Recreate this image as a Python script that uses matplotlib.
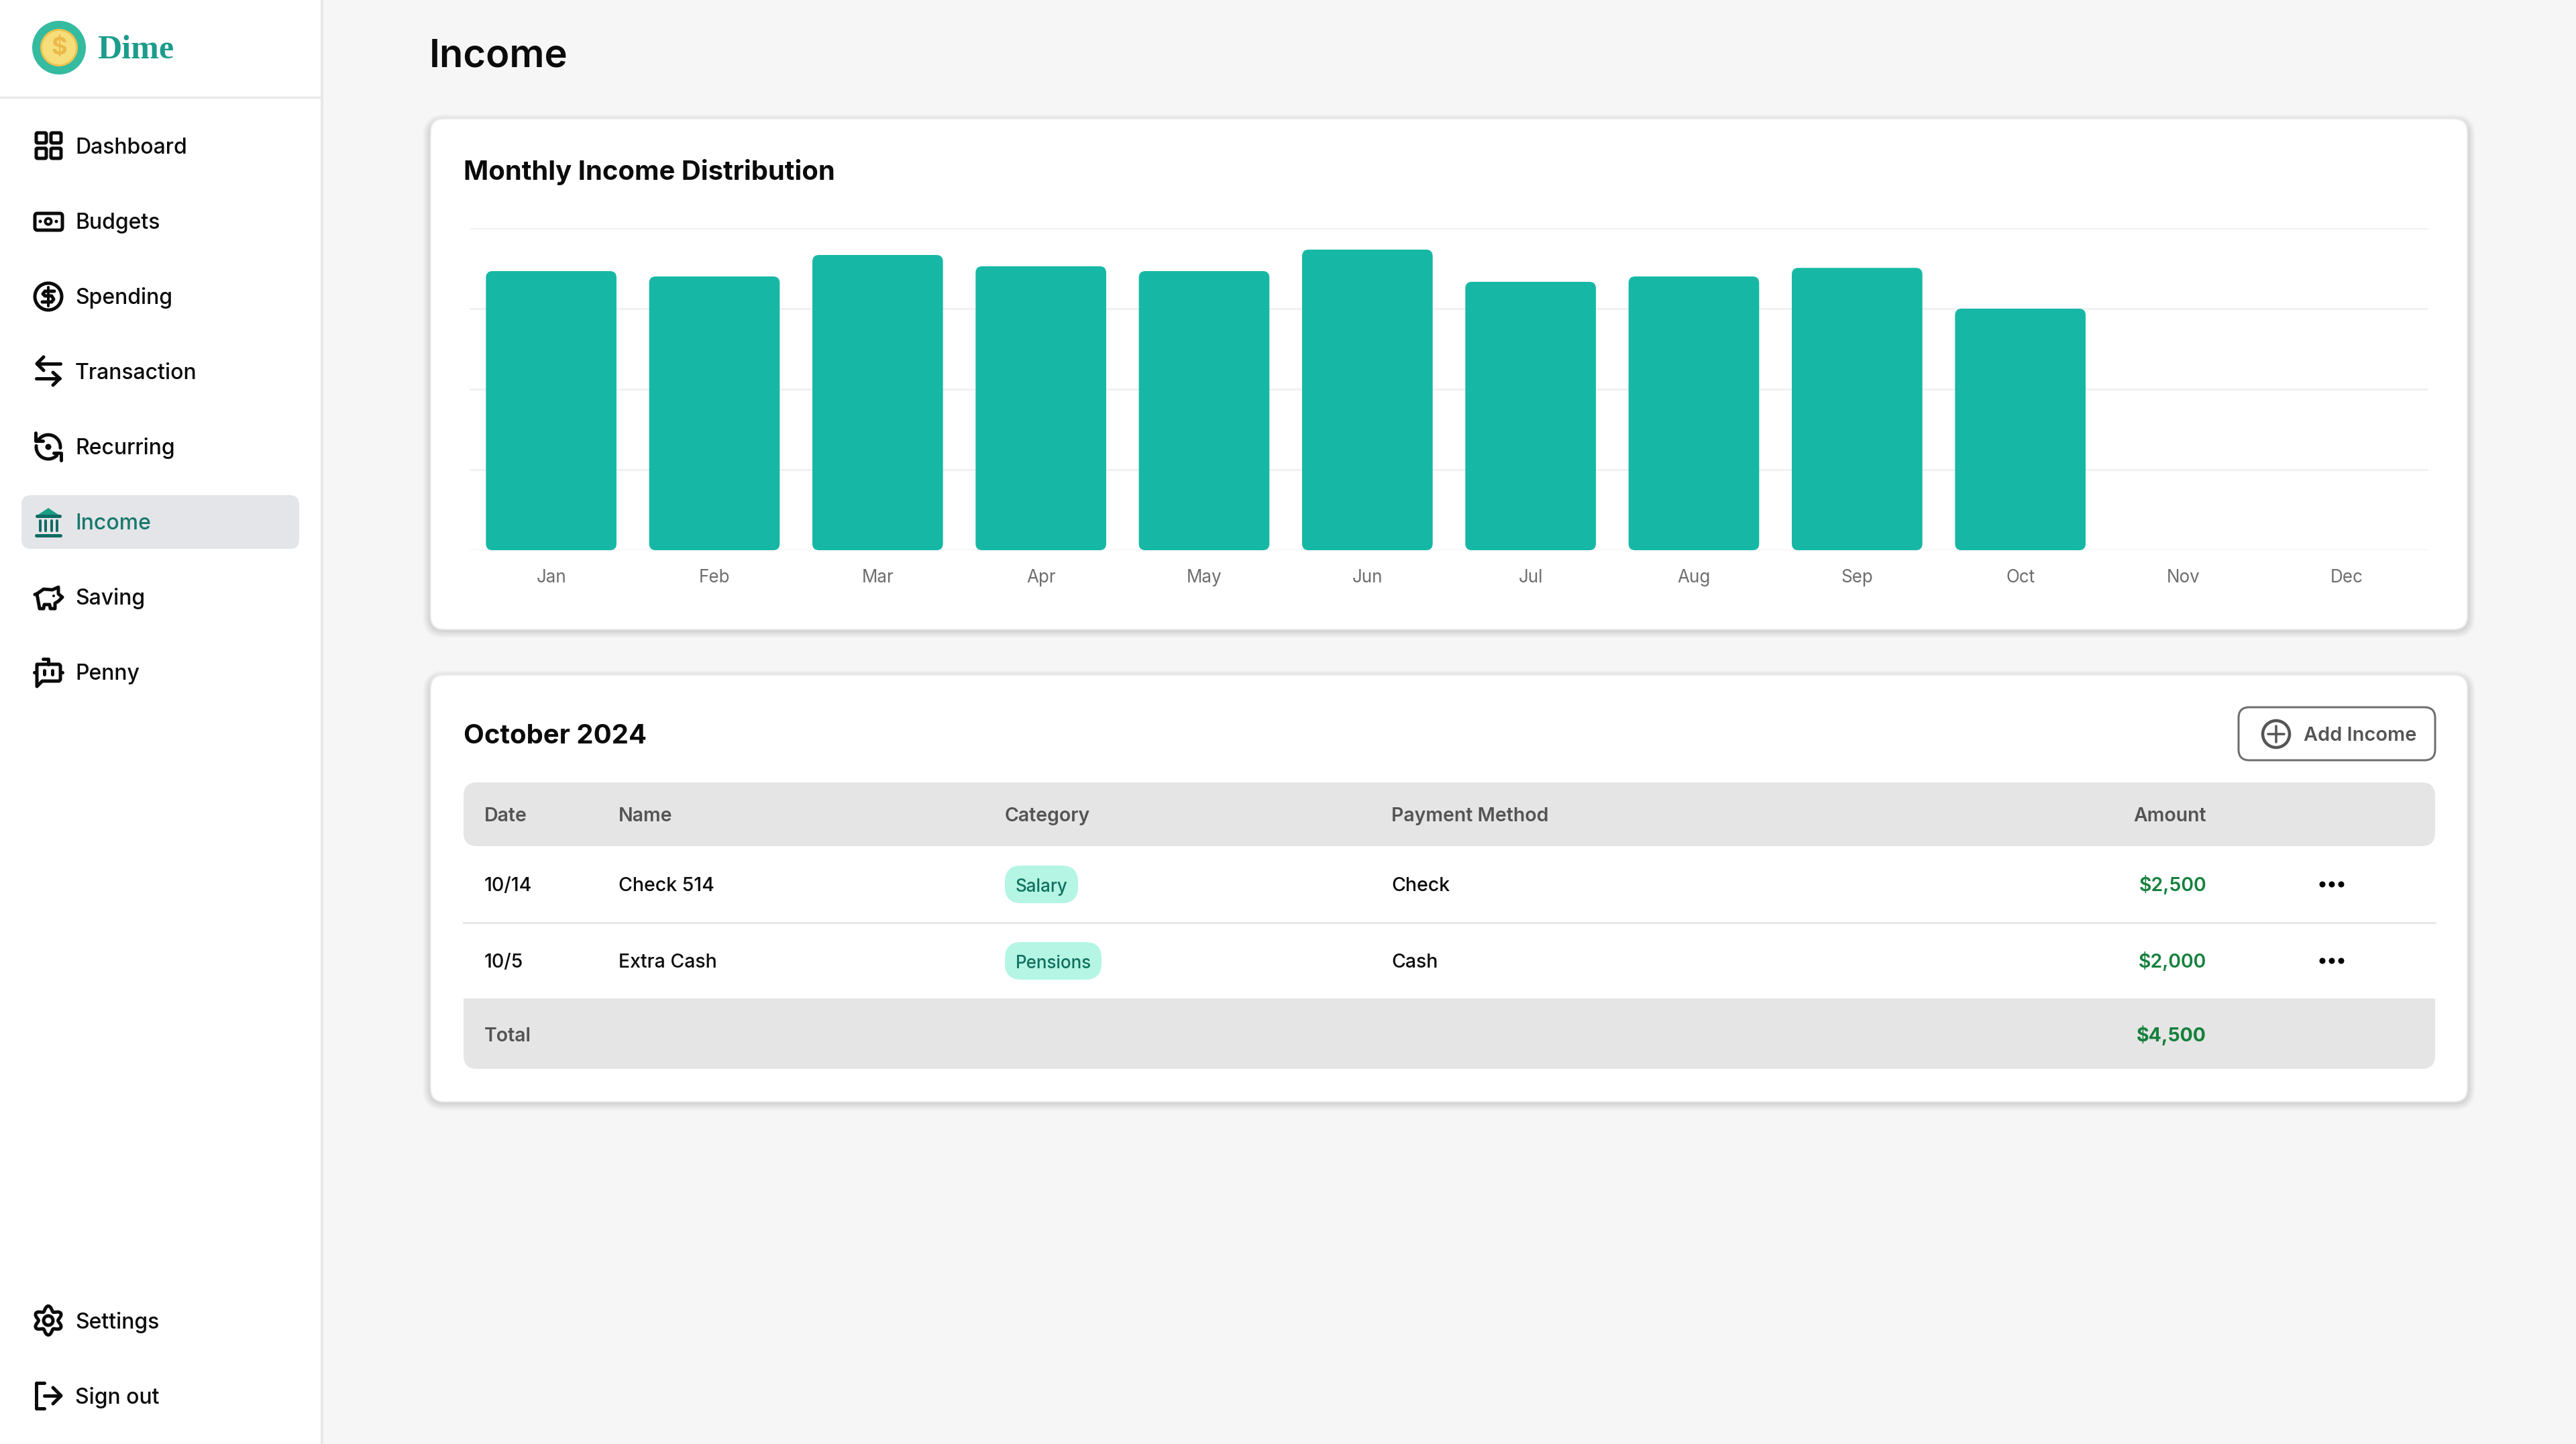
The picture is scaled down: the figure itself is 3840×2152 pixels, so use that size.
"""Income page of the Dime budgeting app, with the monthly income bar chart."""

import matplotlib

matplotlib.use("Agg")
import matplotlib.pyplot as plt
import numpy as np
from matplotlib.patches import Circle, FancyBboxPatch, Polygon

WIDTH, HEIGHT = 3840, 2152

months = ["Jan", "Feb", "Mar", "Apr", "May", "Jun", "Jul", "Aug", "Sep", "Oct", "Nov", "Dec"]
income = [5200, 5100, 5500, 5290, 5200, 5600, 5000, 5100, 5260, 4500, 0, 0]
income_ticks = [0, 1500, 3000, 4500, 6000]

nav_top = ["Dashboard", "Budgets", "Spending", "Transaction", "Recurring", "Income", "Saving", "Penny"]
nav_bottom = ["Settings", "Sign out"]

columns = ["Date", "Name", "Category", "Payment Method", "Amount"]
dates = ["10/14", "10/5"]
names = ["Check 514", "Extra Cash"]
categories = ["Salary", "Pensions"]
methods = ["Check", "Cash"]
amounts = ["$2,500", "$2,000"]
total = "$4,500"

INK = "#0b0b0b"
TEAL = "#16b8a5"
GREY_TEXT = "#545454"
GREEN = "#15803d"
ACTIVE = "#17786c"


def px(size):
    """Pixels on the canvas to points."""
    return size * 0.72


def label(ax, x, y, s, size, color=INK, weight=500, ha="left", family="Inter"):
    ax.text(x, y, s, fontsize=px(size), color=color, fontweight=weight, ha=ha, va="baseline", family=family)


def box(ax, x0, y0, x1, y1, radius, face, edge="none", lw=0, alpha=1.0, zorder=2):
    ax.add_patch(
        FancyBboxPatch(
            (x0, y0), x1 - x0, y1 - y0, boxstyle=f"round,pad=0,rounding_size={radius}",
            facecolor=face, edgecolor=edge, linewidth=px(lw), alpha=alpha, zorder=zorder,
        )
    )


def stroke(ax, xs, ys, color=INK, lw=5):
    ax.plot(xs, ys, color=color, lw=px(lw), solid_capstyle="round", solid_joinstyle="round", zorder=5)


def ring(ax, x, y, r, color=INK, lw=5):
    ax.add_patch(Circle((x, y), r, facecolor="none", edgecolor=color, linewidth=px(lw), zorder=5))


def dot(ax, x, y, r, color=INK):
    ax.add_patch(Circle((x, y), r, facecolor=color, edgecolor="none", zorder=5))


def card(ax, x0, y0, x1, y1):
    """White card with a soft shadow that falls downward."""
    for grow in range(1, 13):
        box(ax, x0 - grow, y0 - grow + 5, x1 + grow, y1 + grow + 1, 20 + grow, "#000000", alpha=0.012, zorder=1)
    box(ax, x0, y0, x1, y1, 20, "#ffffff", edge="#ececec", lw=2, zorder=2)


def draw_logo(ax):
    dot(ax, 88, 71, 40, "#35bb9f")
    dot(ax, 88, 71, 28, "#f0c24f")
    dot(ax, 88, 71, 25, "#f6df7a")
    ax.text(88, 72, "$", fontsize=px(36), color="#ebb84a", fontweight="bold", ha="center", va="center", family="Inter", zorder=6)
    label(ax, 145, 87, "Dime", 50, "#1c9c8b", "bold", family="Liberation Serif")


def icon_dashboard(ax, y):
    for x0, y0 in [(52, y - 20), (74, y - 20), (52, y + 3), (74, y + 3)]:
        box(ax, x0 + 2, y0, x0 + 17, y0 + 15, 2, "none", edge=INK, lw=5, zorder=5)


def icon_budgets(ax, y):
    box(ax, 52, y - 12, 93, y + 13, 4, "none", edge=INK, lw=5, zorder=5)
    ring(ax, 72, y, 4.5, lw=4)
    dot(ax, 60, y, 2.5)
    dot(ax, 84, y, 2.5)


def icon_spending(ax, y):
    ring(ax, 72, y, 20)
    stroke(ax, [72, 72], [y - 14, y + 14], lw=4)
    stroke(ax, [81, 67, 64, 67, 77, 80, 77, 63], [y - 8, y - 8, y - 4, y - 1, y - 1, y + 4, y + 8, y + 8], lw=5)


def icon_transaction(ax, y):
    stroke(ax, [90, 55], [y - 12, y - 12])
    stroke(ax, [65, 55, 65], [y - 22, y - 12, y - 2])
    stroke(ax, [54, 89], [y + 10, y + 10])
    stroke(ax, [79, 89, 79], [y + 1, y + 10, y + 20])


def icon_recurring(ax, y):
    t = np.radians(np.arange(-5, 155, 5))
    stroke(ax, 72 + 18 * np.cos(t), y - 18 * np.sin(t))
    t = np.radians(np.arange(175, 320, 5))
    stroke(ax, 72 + 18 * np.cos(t), y - 18 * np.sin(t))
    stroke(ax, [53, 53, 64], [y - 21, y - 9, y - 9])
    stroke(ax, [91, 91, 80], [y + 20, y + 9, y + 9])
    dot(ax, 72, y, 4.5)


def icon_income(ax, y):
    ax.add_patch(Polygon([[72, y - 21], [90, y - 9], [54, y - 9]], facecolor="#1b9d86", edgecolor="none", zorder=5))
    stroke(ax, [55, 89], [y - 9, y - 9], "#0f6b63", 5)
    for x in [59.5, 68, 77, 85]:
        stroke(ax, [x, x], [y - 2, y + 13], "#0f6b63", 4)
    stroke(ax, [54, 90], [y + 20, y + 20], "#0f6b63", 5)


def icon_saving(ax, y):
    xs = [52, 55, 65, 78, 87, 87, 93, 87, 82, 82, 75, 74, 66, 65, 59, 57, 55]
    ys = [-4, -5, -12, -11, -15, -5, 0, 6, 9, 17, 17, 11, 11, 17, 17, 6, -5]
    stroke(ax, xs, [y + v for v in ys])
    dot(ax, 80, y - 2, 2)


def icon_penny(ax, y):
    xs = [55, 88, 90, 90, 88, 63, 55, 55]
    ys = [-12, -12, -10, 11, 13, 13, 21, -10]
    stroke(ax, xs, [y + v for v in ys])
    stroke(ax, [72, 72, 64], [y - 12, y - 20, y - 20])
    stroke(ax, [51, 54], [y, y])
    stroke(ax, [91, 93], [y, y])
    stroke(ax, [66, 66], [y - 3, y + 3])
    stroke(ax, [78, 78], [y - 3, y + 3])


def icon_settings(ax, y):
    t = np.radians(np.arange(0, 361, 3))
    r = 18 + 3.5 * np.cos(6 * t)
    stroke(ax, 72 + r * np.sin(t), y - r * np.cos(t))
    ring(ax, 72, y, 7)


def icon_signout(ax, y):
    stroke(ax, [66, 54, 54, 66], [y - 19, y - 19, y + 19, y + 19])
    stroke(ax, [66, 90], [y, y])
    stroke(ax, [79, 91, 79], [y - 12, y, y + 12])


def draw_sidebar(ax):
    ax.add_patch(plt.Rectangle((0, 0), 479, HEIGHT, facecolor="#ffffff", edgecolor="none", zorder=1))
    ax.plot([480, 480], [0, HEIGHT], color="#e8e8e8", lw=px(4), zorder=2)
    ax.plot([0, 478], [144.5, 144.5], color="#e6e6e6", lw=px(3), zorder=2)
    draw_logo(ax)
    box(ax, 32, 738, 446, 818, 14, "#e4e5e9")
    icons = [icon_dashboard, icon_budgets, icon_spending, icon_transaction, icon_recurring, icon_income, icon_saving, icon_penny]
    for i, (name, icon) in enumerate(zip(nav_top, icons)):
        mid = 218 + 112 * i
        icon(ax, mid)
        label(ax, 112, mid + 11, name, 32, ACTIVE if name == "Income" else INK)
    for name, icon, mid in zip(nav_bottom, [icon_settings, icon_signout], [1968, 2080]):
        icon(ax, mid)
        label(ax, 112, mid + 12, name, 32)


def draw_chart(fig):
    chart = fig.add_axes([700 / WIDTH, 1 - 820 / HEIGHT, 2920 / WIDTH, 480 / HEIGHT])
    chart.patch.set_alpha(0)
    chart.set_xlim(-0.5, 11.5)
    chart.set_ylim(0, income_ticks[-1])
    # corner radius is given in x units, the aspect turns it into 8 px on both axes
    aspect = (income_ticks[-1] / 480) / (12 / 2920)
    for i, value in enumerate(income):
        if value > 0:
            chart.add_patch(
                FancyBboxPatch(
                    (i - 0.4, 0), 0.8, value, boxstyle="round,pad=0,rounding_size=0.04",
                    mutation_aspect=aspect, facecolor=TEAL, edgecolor="none", zorder=3,
                )
            )
    chart.set_xticks(range(len(months)), months)
    chart.set_yticks(income_ticks, [""] * len(income_ticks))
    chart.tick_params(length=0, pad=px(28), labelsize=px(26), labelcolor="#6d6d6d")
    chart.grid(axis="y", color="#f1f1f3", lw=px(3))
    chart.set_axisbelow(True)
    for spine in chart.spines.values():
        spine.set_visible(False)
    for tick in chart.get_xticklabels():
        tick.set_family("Inter")


def draw_table(ax):
    label(ax, 691, 1108, "October 2024", 40, INK, "bold")
    box(ax, 3337, 1054, 3630, 1133, 16, "#ffffff", edge="#6e6e6e", lw=3, zorder=3)
    ring(ax, 3393, 1094, 20, "#555555", 4.5)
    stroke(ax, [3381, 3405], [1094, 1094], "#555555", 3.5)
    stroke(ax, [3393, 3393], [1082, 1106], "#555555", 3.5)
    label(ax, 3434, 1104, "Add Income", 29, GREY_TEXT, 600)

    box(ax, 691, 1166, 3630, 1261, 20, "#e5e5e5", zorder=3)
    box(ax, 691, 1488, 3630, 1593, 20, "#e5e5e5", zorder=3)
    ax.add_patch(plt.Rectangle((691, 1488), 2939, 30, facecolor="#e5e5e5", edgecolor="none", zorder=3))
    ax.plot([691, 3630], [1375, 1375], color="#e8e8e8", lw=px(3), zorder=3)

    col_x = [722, 922, 1498, 2074, 3289]
    for x, name in zip(col_x, columns):
        ha = "right" if name == "Amount" else "left"
        label(ax, x, 1224, name, 28.5, GREY_TEXT, 600, ha=ha)

    pill_right = [1607, 1642]
    for i, base in enumerate([1328, 1442]):
        label(ax, col_x[0], base, dates[i], 28.5)
        label(ax, col_x[1], base, names[i], 28.5)
        box(ax, 1498, base - 38, pill_right[i], base + 18, 24, "#b4f5e4", zorder=3)
        label(ax, (1498 + pill_right[i]) / 2, base + 1, categories[i], 26, "#11705f", ha="center")
        label(ax, col_x[3], base, methods[i], 28.5)
        label(ax, col_x[4], base, amounts[i], 28.5, GREEN, 600, ha="right")
        for x in [3462, 3476, 3490]:
            dot(ax, x, base - 10, 4.5, "#000000")
    label(ax, col_x[0], 1552, "Total", 28.5, GREY_TEXT, 600)
    label(ax, col_x[4], 1552, total, 28.5, GREEN, 700, ha="right")


def main():
    fig = plt.figure(figsize=(WIDTH / 100, HEIGHT / 100), dpi=100, facecolor="#f6f6f6")
    page = fig.add_axes([0, 0, 1, 1])
    page.set_xlim(0, WIDTH)
    page.set_ylim(HEIGHT, 0)
    page.axis("off")

    draw_sidebar(page)
    label(page, 640, 99, "Income", 58, INK, 600)
    card(page, 642, 177, 3678, 938)
    label(page, 691, 268, "Monthly Income Distribution", 40, INK, "bold")
    card(page, 642, 1006, 3678, 1642)
    draw_table(page)
    draw_chart(fig)

    fig.savefig("out.png", dpi=100, facecolor=fig.get_facecolor())


if __name__ == "__main__":
    main()
